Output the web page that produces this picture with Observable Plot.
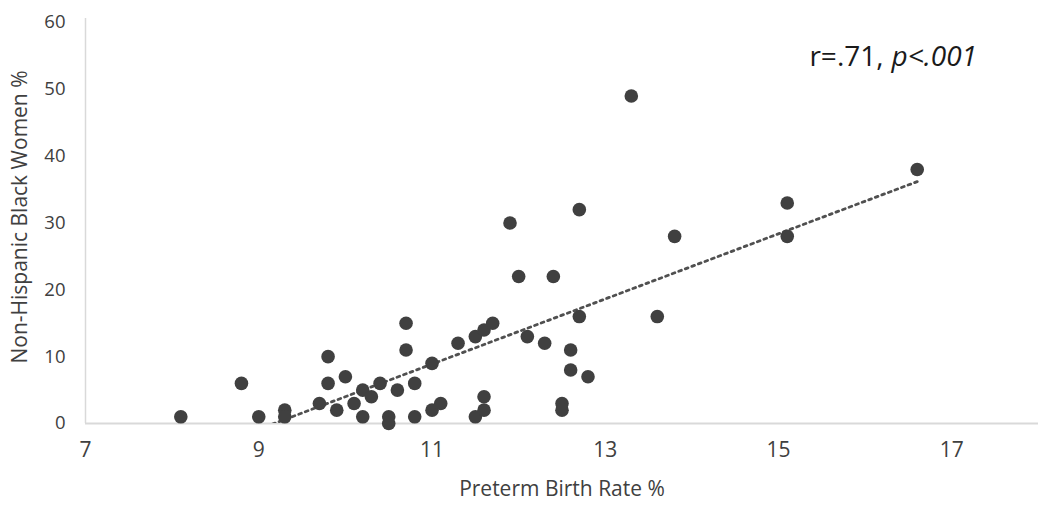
<!DOCTYPE html>
<html>
<head>
<meta charset="utf-8">
<script src="https://cdn.jsdelivr.net/npm/d3@7"></script>
<script src="https://cdn.jsdelivr.net/npm/@observablehq/plot@0.6"></script>
<style>
  html, body { margin: 0; padding: 0; background: #fff; }
</style>
</head>
<body>
<div id="chart"></div>
<script>
// Preterm birth rate (%) per point
const pretermRate = [
  8.1, 8.8, 9.0, 9.3, 9.3, 9.7, 9.8, 9.8, 9.9, 10.0,
  10.1, 10.2, 10.2, 10.3, 10.4, 10.5, 10.5, 10.6, 10.7, 10.7,
  10.8, 10.8, 11.0, 11.0, 11.1, 11.3, 11.5, 11.6, 11.7, 11.5,
  11.6, 11.6, 11.9, 12.0, 12.1, 12.3, 12.4, 12.5, 12.5, 12.6,
  12.6, 12.7, 12.7, 12.8, 13.3, 13.6, 13.8, 15.1, 15.1, 16.6
];
// Non-Hispanic Black women (%) per point
const blackWomenPct = [
  1, 6, 1, 2, 1, 3, 10, 6, 2, 7,
  3, 5, 1, 4, 6, 1, 0, 5, 15, 11,
  6, 1, 9, 2, 3, 12, 13, 14, 15, 1,
  4, 2, 30, 22, 13, 12, 22, 3, 2, 11,
  8, 32, 16, 7, 49, 16, 28, 33, 28, 38
];
const xTicks = [7, 9, 11, 13, 15, 17];
const yTicks = [0, 10, 20, 30, 40, 50, 60];
const xTitle = "Preterm Birth Rate %";
const yTitle = "Non-Hispanic Black Women %";
const statR = "r=.71,";
const statP = "p<.001";

const data = pretermRate.map((x, i) => ({x, y: blackWomenPct[i]}));

const ink = "#404040";
const sans = "'Open Sans', 'Noto Sans', sans-serif";

const chart = Plot.plot({
  width: 1050,
  height: 507,
  marginLeft: 85,
  marginRight: 12,
  marginTop: 22,
  marginBottom: 84,
  style: {background: "#fff", color: ink},
  x: {domain: [7, 18]},
  y: {domain: [0, 60]},
  marks: [
    Plot.ruleX([7], {stroke: "#d9d9d9", strokeWidth: 1.5, y1: 0, y2: 60.6}),
    Plot.ruleY([0], {stroke: "#d9d9d9", strokeWidth: 2}),
    Plot.axisX({ticks: xTicks, tickSize: 0, tickPadding: 19, fontSize: 21, fontFamily: sans, label: null}),
    Plot.axisY({ticks: yTicks, tickSize: 0, tickPadding: 20, fontSize: 18.5, fontFamily: sans, label: null}),
    Plot.text([xTitle], {frameAnchor: "bottom", dy: 72, fontSize: 21, fontFamily: sans, fill: ink}),
    Plot.text([yTitle], {frameAnchor: "left", textAnchor: "middle", rotate: -90, dx: -65, dy: -6, fontSize: 21, fontFamily: sans, fill: ink}),
    Plot.linearRegressionY(data, {x: "x", y: "y", ci: 0, stroke: "#505050", strokeWidth: 2.8, strokeDasharray: "2.8,4.2", clip: true}),
    Plot.dot(data, {x: "x", y: "y", r: 6.8, fill: ink, stroke: "none"}),
    Plot.text([statR], {frameAnchor: "top-right", textAnchor: "end", dx: -155, dy: 24, fontSize: 28, fontFamily: sans, fill: "#1a1a1a"}),
    Plot.text([statP], {frameAnchor: "top-right", textAnchor: "start", dx: -147, dy: 24, fontSize: 28, fontFamily: sans, fontStyle: "italic", fill: "#1a1a1a"})
  ]
});
document.getElementById("chart").append(chart);
</script>
</body>
</html>
